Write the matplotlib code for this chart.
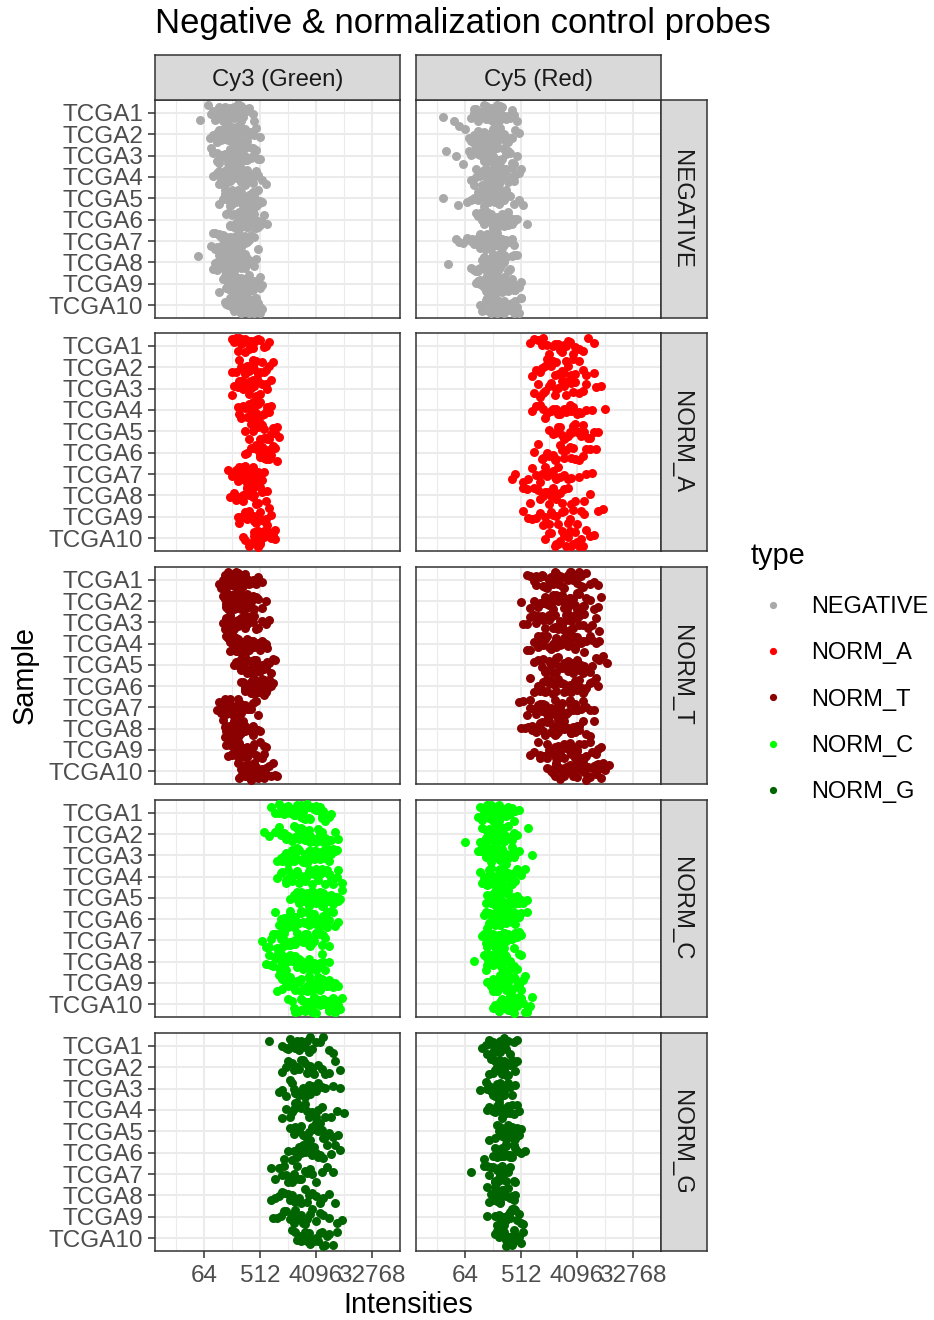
"""
Negative & normalization control probes, per sample and channel
"""
import matplotlib
matplotlib.use('Agg')
import matplotlib.pyplot as plt
from matplotlib.lines import Line2D
from matplotlib.ticker import NullFormatter
import numpy as np

plt.rcParams['font.family'] = ['Liberation Sans', 'DejaVu Sans']

samples = ['TCGA1', 'TCGA2', 'TCGA3', 'TCGA4', 'TCGA5',
           'TCGA6', 'TCGA7', 'TCGA8', 'TCGA9', 'TCGA10']
channels = ['Cy3 (Green)', 'Cy5 (Red)']
types = ['NEGATIVE', 'NORM_A', 'NORM_T', 'NORM_C', 'NORM_G']
type_colors = ['#A9A9A9', '#FF0000', '#8B0000', '#00FF00', '#006400']
x_ticks = [64, 512, 4096, 32768]

# probe intensities as log2 * 10, one string per sample (TCGA1..TCGA10)
neg_cy3 = [
    "58 62 64 65 66 67 68 69 69 70 70 71 71 72 72 73 73 73 74 74 75 75 76 76 77 77 78 78 79 80 81 82 83 84 86 87 "
    "66 68 70 71 72 73 74 75 76 77 78 79 80 82",
    "63 65 67 68 69 70 71 71 72 72 73 73 74 74 75 75 75 76 76 77 77 78 78 79 79 80 80 81 82 83 84 85 86 87 88 90 "
    "67 69 71 72 73 74 75 76 77 78 79 80 81 83",
    "64 65 67 68 69 70 71 72 72 73 73 74 74 75 75 76 76 77 77 77 78 78 79 79 80 80 81 82 83 84 85 86 87 88 89 90 "
    "67 69 71 72 73 74 75 76 77 78 79 80 82 84",
    "65 67 68 69 70 71 72 72 73 74 74 75 75 76 76 77 77 78 78 79 79 80 80 81 81 82 83 83 84 85 86 87 88 89 91 93 "
    "68 70 72 73 74 75 76 77 78 79 80 81 82 84",
    "68 70 71 72 73 74 74 75 76 76 77 77 78 78 79 79 80 80 81 81 82 82 83 83 84 84 85 85 86 87 87 88 89 89 90 91 "
    "71 73 74 75 77 78 79 80 81 82 83 84 85 86",
    "72 73 74 75 76 77 77 78 78 79 79 80 80 81 81 82 82 83 83 83 84 84 85 85 86 86 87 87 88 88 89 89 90 91 92 94 "
    "74 76 78 79 80 81 82 83 84 85 86 87 88 90",
    "64 65 66 67 68 69 70 70 71 71 72 72 73 73 74 74 75 75 76 76 77 77 78 78 79 79 80 80 81 81 82 83 84 85 87 89 "
    "66 68 69 71 72 73 74 75 76 77 78 79 80 82",
    "57 65 66 67 68 69 70 71 71 72 72 73 73 74 74 75 75 76 76 77 77 78 78 79 79 80 80 81 81 82 83 84 85 86 87 88 "
    "67 68 70 71 72 73 74 75 76 77 78 79 80 82",
    "68 70 71 72 73 73 74 75 75 76 76 77 77 78 78 79 79 80 80 81 81 82 82 83 83 84 84 85 85 86 87 88 89 90 90 91 "
    "71 72 74 75 76 77 78 79 80 81 82 83 84 86",
    "71 72 73 74 75 76 76 77 77 78 78 79 79 80 80 81 81 82 82 83 83 84 84 85 85 86 86 87 87 88 88 89 89 90 90 91 "
    "73 75 76 77 78 79 80 81 82 83 84 85 86 88",
]
neg_cy5 = [
    "48 54 63 65 66 67 68 69 70 70 71 71 72 72 73 73 74 74 75 75 76 76 77 77 78 78 79 79 80 81 82 83 84 85 86 88 "
    "65 67 69 70 71 72 73 74 75 76 77 78 80 82",
    "57 60 62 64 65 66 67 68 69 70 70 71 71 72 72 73 73 74 74 75 75 76 76 77 77 78 78 79 80 81 82 83 84 85 87 89 "
    "63 65 67 69 70 71 72 73 74 75 76 77 79 81",
    "50 55 59 62 64 65 66 67 68 69 70 70 71 71 72 72 73 73 74 74 75 75 76 76 77 77 78 79 80 81 82 83 84 85 86 88 "
    "63 65 67 68 70 71 72 73 74 75 76 77 79 81",
    "63 65 66 67 68 69 70 71 71 72 72 73 73 74 74 75 75 76 76 77 77 78 78 79 79 80 80 81 82 83 84 85 86 87 89 90 "
    "66 68 69 71 72 73 74 75 76 77 78 79 81 83",
    "48 56 61 63 65 66 67 68 69 70 70 71 72 72 73 73 74 74 75 75 76 76 77 77 78 78 79 79 80 81 82 83 84 86 89 91 "
    "65 67 69 70 72 73 74 75 76 77 78 79 80 82",
    "66 67 68 69 70 71 71 72 72 73 73 74 74 75 75 76 76 77 77 78 78 79 79 80 80 81 81 82 82 83 84 85 86 87 88 93 "
    "68 69 71 72 73 74 75 76 77 78 79 80 81 83",
    "55 57 59 61 63 65 66 67 68 69 69 70 70 71 71 72 72 73 73 74 74 75 75 76 76 77 77 78 78 79 80 81 82 84 85 86 "
    "64 66 68 69 70 71 72 73 74 75 76 77 79 80",
    "51 63 65 66 67 68 69 70 70 71 71 72 72 73 73 74 74 75 75 76 76 77 77 78 78 79 79 80 80 81 82 83 84 85 86 88 "
    "66 67 69 70 71 72 73 74 75 76 77 78 79 81",
    "66 67 68 69 70 71 72 72 73 73 74 74 75 75 76 76 77 77 78 78 79 79 80 80 81 81 82 82 83 84 85 86 87 88 89 90 "
    "68 70 71 72 74 75 76 77 78 79 80 81 82 84",
    "68 69 70 71 72 73 73 74 74 75 75 76 76 77 77 78 78 79 79 80 80 81 81 82 82 83 83 84 84 85 86 87 88 89 90 90 "
    "70 72 73 74 75 76 77 78 79 80 81 82 83 85",
]
norm_a_cy3 = [
    "75 76 77 78 79 80 80 81 82 82 83 84 84 85 86 87 88 89 90 92 93 95",
    "75 77 79 80 81 82 83 83 84 85 85 86 86 87 88 89 90 91 92 93 95 97",
    "75 76 78 79 80 81 81 82 83 84 84 85 85 86 87 88 89 90 91 93 94 96",
    "78 79 80 81 82 83 84 85 85 86 86 87 88 88 89 90 91 92 93 94 95 96",
    "82 84 85 86 87 88 88 89 89 90 90 91 92 92 93 94 95 96 97 98 99 100",
    "82 83 85 86 87 88 88 89 90 90 91 91 92 93 93 94 95 96 96 97 98 99",
    "73 75 77 78 79 79 80 81 81 82 82 83 84 84 85 86 87 88 89 90 91 92",
    "74 76 77 78 79 80 81 81 82 83 83 84 85 86 86 87 88 89 90 91 93 94",
    "78 79 80 81 82 83 84 84 85 86 86 87 88 88 89 90 91 92 93 94 95 96",
    "81 82 84 85 86 87 87 88 89 89 90 90 91 92 92 93 94 95 96 97 98 98",
]
norm_a_cy5 = [
    "95 97 99 101 102 104 105 107 108 110 111 112 113 114 115 116 118 119 121 123 126 129",
    "96 98 100 101 103 104 106 107 108 109 110 112 113 114 115 117 118 119 121 123 125 129",
    "97 99 100 102 103 105 106 108 109 110 112 113 114 115 117 118 119 121 123 125 130 133",
    "96 98 100 102 103 104 106 107 109 110 111 113 114 116 117 118 120 121 122 125 128 135",
    "105 107 108 110 111 112 113 114 115 116 117 118 119 120 121 122 123 124 126 127 129 131",
    "97 99 101 102 104 105 107 108 109 111 112 113 114 116 117 118 119 121 123 125 127 130",
    "85 87 91 94 96 98 100 101 103 104 105 107 108 109 110 111 113 115 117 121 125 128",
    "91 93 95 97 99 100 102 103 104 105 106 107 108 109 111 112 113 115 117 119 124 127",
    "91 94 96 98 100 102 103 105 106 107 109 110 112 113 115 116 118 120 122 124 131 134",
    "103 105 106 108 109 110 111 112 113 114 115 116 117 118 119 120 121 122 123 125 127 129",
]
norm_t_cy3 = [
    "68 69 70 71 72 72 73 73 74 74 75 75 76 76 77 77 78 78 79 79 80 80 81 81 82 83 84 85 86 88 89 91 "
    "71 73 75 76 77 78 80 82",
    "70 71 72 73 73 74 74 75 75 76 76 77 77 78 78 79 79 80 80 81 81 82 82 83 84 85 86 87 88 89 91 93 "
    "72 74 76 77 78 79 81 83",
    "70 71 72 73 74 74 75 75 76 76 77 77 78 78 79 79 80 80 81 81 82 82 83 84 85 86 87 88 89 91 93 95 "
    "72 74 76 78 79 80 82 84",
    "72 73 74 75 76 76 77 77 78 78 79 79 80 80 81 81 82 82 83 83 84 84 85 86 87 88 89 90 91 92 93 94 "
    "74 76 78 79 80 81 83 85",
    "76 77 78 79 80 80 81 81 82 82 83 83 84 84 85 85 86 86 87 87 88 88 89 90 91 92 93 94 95 96 97 98 "
    "78 80 82 83 84 86 88 90",
    "80 81 82 82 83 83 84 84 85 85 86 86 87 87 88 88 89 89 90 90 91 91 92 92 93 93 94 94 95 95 96 97 "
    "82 84 85 86 87 88 90 92",
    "67 68 69 70 71 71 72 72 73 73 74 74 75 75 76 76 77 77 78 78 79 79 80 80 81 82 83 84 85 86 88 89 "
    "69 71 73 74 75 77 78 80",
    "70 71 72 72 73 73 74 74 75 75 76 76 77 77 78 78 79 79 80 80 81 81 82 83 84 85 86 86 87 88 89 90 "
    "71 73 75 76 77 78 80 82",
    "72 73 74 75 75 76 76 77 77 78 78 79 79 80 80 81 81 82 82 83 83 84 85 86 87 88 89 90 91 92 92 93 "
    "74 76 78 79 80 81 83 85",
    "78 79 80 81 82 82 83 83 84 84 85 85 86 86 87 87 88 88 89 89 90 90 91 91 92 93 94 95 96 97 98 99 "
    "80 82 84 85 86 87 89 91",
]
norm_t_cy5 = [
    "93 95 97 98 100 101 102 103 104 105 106 107 108 109 110 111 112 113 114 115 116 117 118 119 120 121 122 123 125 127 129 131 "
    "98 102 106 109 112 115 118 122",
    "90 95 97 99 101 102 103 104 105 106 107 108 109 110 111 112 113 114 115 116 117 118 119 120 121 122 124 125 127 129 131 133 "
    "100 104 107 110 113 116 120 123",
    "91 93 95 97 99 100 102 103 104 105 106 107 108 109 110 111 112 113 114 115 116 117 118 119 120 121 123 124 126 128 130 132 "
    "98 101 105 108 111 114 118 121",
    "93 95 97 99 100 101 103 104 105 106 107 108 109 110 111 112 113 114 115 116 117 118 119 120 121 122 124 125 127 128 130 132 "
    "99 102 106 109 112 115 119 123",
    "97 99 101 102 104 105 106 107 108 109 110 111 112 113 114 115 116 117 118 119 120 121 122 123 124 125 127 128 130 132 134 136 "
    "103 106 109 112 115 118 122 126",
    "95 97 99 100 102 103 104 105 106 107 108 109 110 111 112 113 114 115 116 117 118 119 120 121 122 123 124 125 127 128 130 131 "
    "101 104 107 110 113 116 119 122",
    "89 91 93 95 97 98 100 101 102 103 104 105 106 107 108 109 110 111 112 113 114 115 116 117 118 119 120 122 123 125 127 129 "
    "95 99 103 106 109 112 116 120",
    "90 92 94 96 98 99 100 101 102 103 104 105 106 107 108 109 110 111 112 113 114 115 116 117 118 119 120 121 123 125 127 129 "
    "96 100 104 107 110 113 117 121",
    "95 97 99 100 102 103 104 105 106 107 108 109 110 111 112 113 114 115 116 117 118 119 120 121 122 124 125 127 128 130 131 133 "
    "100 104 107 110 113 116 120 124",
    "104 106 107 108 109 110 111 112 113 114 115 116 117 118 119 120 121 122 123 124 125 126 127 128 129 130 131 132 133 134 135 137 "
    "108 111 114 117 120 123 126 130",
]
norm_c_cy3 = [
    "96 98 100 101 102 103 104 105 106 107 108 109 110 110 111 112 112 113 114 115 116 117 118 119 120 121 122 123 124 125 127 128 "
    "100 104 107 110 113 116 120 123",
    "92 95 98 100 101 103 104 105 106 107 108 109 110 111 112 113 114 115 116 117 118 119 120 121 122 123 124 125 127 128 130 132 "
    "102 105 108 111 114 117 121 125",
    "99 101 102 103 105 106 107 108 109 110 111 112 113 114 115 115 116 117 118 119 120 121 122 123 124 125 126 127 128 129 130 131 "
    "104 107 110 113 116 119 122 126",
    "99 101 102 104 105 106 107 108 109 110 111 112 113 114 115 116 117 118 119 120 121 122 123 124 125 126 127 128 129 131 132 134 "
    "104 108 111 114 117 120 123 127",
    "106 108 109 110 111 112 113 114 115 116 116 117 118 119 120 120 121 122 123 124 124 125 126 127 128 129 129 130 131 132 133 134 "
    "110 113 116 119 121 124 127 130",
    "98 100 101 103 104 105 106 107 108 109 110 111 112 113 114 115 116 117 118 119 120 121 122 123 124 125 126 127 128 129 130 132 "
    "102 106 109 112 115 118 122 126",
    "91 93 95 97 98 100 101 102 103 104 105 106 107 108 109 110 111 112 113 114 115 116 117 118 119 120 121 122 123 124 125 127 "
    "96 99 103 106 109 112 116 120",
    "93 95 96 98 99 100 101 102 103 104 105 106 107 108 109 110 111 112 113 114 115 116 117 118 119 120 121 122 123 124 125 127 "
    "97 100 104 107 110 113 117 120",
    "99 100 102 103 104 105 106 107 108 109 110 111 112 113 114 115 116 117 118 119 120 121 122 123 124 125 126 127 128 129 130 132 "
    "102 106 109 112 115 118 122 126",
    "105 107 108 109 110 111 112 113 114 115 116 117 118 118 119 120 121 122 123 124 125 126 127 127 128 129 130 131 131 132 133 134 "
    "109 112 115 118 121 124 127 130",
]
norm_c_cy5 = [
    "67 68 69 70 71 71 72 72 73 73 74 74 75 75 76 76 77 77 78 78 79 79 80 80 81 82 83 84 85 86 87 89 "
    "70 72 74 76 77 78 80 82",
    "60 68 69 70 71 72 72 73 73 74 74 75 75 76 76 77 77 78 78 79 79 80 80 81 81 82 83 84 85 86 88 94 "
    "71 73 75 77 78 79 81 83",
    "67 68 69 70 71 72 72 73 73 74 74 75 75 76 76 77 77 78 78 79 79 80 80 81 82 83 84 85 86 87 89 96 "
    "70 72 74 76 77 78 80 82",
    "68 69 70 71 72 73 73 74 74 75 75 76 76 77 77 78 78 79 79 80 80 81 81 82 83 84 85 86 87 88 90 92 "
    "71 73 75 77 78 79 81 84",
    "71 72 73 74 75 75 76 76 77 77 78 78 79 79 80 80 81 81 82 82 83 83 84 84 85 86 87 88 89 90 91 93 "
    "74 76 78 79 80 82 84 86",
    "70 71 72 73 74 74 75 75 76 76 77 77 78 78 79 79 80 80 81 81 82 82 83 84 85 86 87 87 88 89 90 93 "
    "73 75 77 78 79 81 83 85",
    "69 70 71 72 72 73 73 74 74 75 75 76 76 77 77 78 78 79 79 80 80 81 81 82 83 84 85 86 87 88 89 90 "
    "71 73 75 76 77 79 81 83",
    "65 70 71 72 73 73 74 74 75 75 76 76 77 77 78 78 79 79 80 80 81 81 82 82 83 84 85 86 87 88 89 90 "
    "72 74 75 77 78 80 81 83",
    "72 73 74 74 75 75 76 76 77 77 78 78 79 79 80 80 81 81 82 82 83 83 84 84 85 86 87 88 89 90 91 92 "
    "75 76 78 79 80 82 84 86",
    "75 76 77 78 78 79 79 80 80 81 81 82 82 83 83 84 84 85 85 86 86 87 87 88 89 90 91 92 93 94 95 96 "
    "78 80 81 83 84 86 88 90",
]
norm_g_cy3 = [
    "95 102 104 105 106 107 108 109 110 111 112 113 114 115 116 117 118 120 122 124 127 129",
    "102 104 105 107 108 109 110 111 112 113 114 115 116 117 118 119 121 123 125 127 130 133",
    "100 102 104 106 107 108 109 110 111 112 113 114 115 116 117 118 120 121 123 125 129 133",
    "102 104 106 107 108 109 110 111 112 113 114 115 116 117 118 120 121 123 125 128 131 135",
    "106 108 109 110 111 112 113 114 115 116 117 118 119 120 121 122 123 124 125 127 129 132",
    "103 105 107 108 110 111 112 113 114 115 116 117 118 119 120 121 122 124 126 128 130 133",
    "96 98 100 102 103 104 105 106 107 108 109 110 111 112 114 115 117 118 120 123 126 129",
    "96 98 100 102 103 105 106 107 108 109 110 111 112 114 115 116 118 120 122 124 127 130",
    "97 99 101 103 104 106 107 108 109 110 112 113 114 115 117 118 120 122 124 127 131 134",
    "107 109 110 111 112 113 114 115 116 117 118 119 120 121 122 123 124 125 126 127 129 131",
]
norm_g_cy5 = [
    "69 71 72 73 74 75 75 76 77 77 78 78 79 79 80 81 81 82 83 84 86 88",
    "73 74 75 76 76 77 78 78 79 79 80 80 81 81 82 82 83 84 85 86 87 88",
    "68 71 72 73 74 75 76 76 77 77 78 78 79 79 80 81 81 82 83 84 85 87",
    "72 73 74 75 76 77 77 78 78 79 79 80 80 81 82 82 83 84 85 86 88 89",
    "73 76 77 78 79 79 80 80 81 81 82 82 83 83 84 85 85 86 87 88 89 90",
    "70 75 76 77 78 78 79 80 80 81 81 82 82 83 84 84 85 86 87 88 90 92",
    "63 70 72 73 74 75 76 76 77 77 78 78 79 79 80 81 81 82 83 84 86 87",
    "72 73 74 75 76 76 77 77 78 78 79 79 80 80 81 81 82 83 84 85 86 87",
    "72 76 77 78 79 80 80 81 81 82 82 83 83 84 84 85 86 87 88 89 90 91",
    "76 77 78 79 80 81 81 82 82 83 83 84 84 85 85 86 86 87 88 89 90 91",
]

panel_data = {
    'NEGATIVE': (neg_cy3, neg_cy5),
    'NORM_A': (norm_a_cy3, norm_a_cy5),
    'NORM_T': (norm_t_cy3, norm_t_cy5),
    'NORM_C': (norm_c_cy3, norm_c_cy5),
    'NORM_G': (norm_g_cy3, norm_g_cy5),
}

W, H = 934, 1320
col_x = [(155, 400), (416, 661)]
row_y = [(100, 318), (333, 551), (567, 784), (800, 1017), (1033, 1251)]
GRID = '#EBEBEB'
DARK = '#333333'


def px_axes(fig, x0, y0, x1, y1):
    return fig.add_axes([x0 / W, 1 - y1 / H, (x1 - x0) / W, (y1 - y0) / H])


def jitter(n, seed):
    # vertical jitter inside a sample row (like geom_jitter height=0.4)
    k = np.arange(n) + 1.0
    h = np.sin(k * 12.9898 + seed * 78.233) * 43758.5453
    return (h - np.floor(h) - 0.5) * 0.8


def draw_panel(ax, rows, color, ti, ci):
    for si, s in enumerate(rows):
        vals = 2 ** (np.array(s.split(), float) / 10)
        yy = si + 1 + jitter(len(vals), ti * 20 + ci * 10 + si)
        ax.scatter(vals, yy, s=42, color=color, linewidths=0, zorder=3)
    ax.set_xscale('log', base=2)
    ax.set_xlim(2 ** 3.375, 2 ** 16.5)
    ax.set_ylim(10.6, 0.4)
    ax.set_xticks(x_ticks)
    ax.set_xticks([2 ** 4.5, 2 ** 7.5, 2 ** 10.5, 2 ** 13.5], minor=True)
    ax.xaxis.set_minor_formatter(NullFormatter())
    ax.set_yticks(range(1, 11))
    ax.set_yticks([], minor=True)
    ax.set_axisbelow(True)
    ax.grid(which='major', color=GRID, lw=1.5)
    ax.grid(which='minor', axis='x', color=GRID, lw=0.8)
    for sp in ax.spines.values():
        sp.set_color(DARK)
        sp.set_linewidth(1.1)
    ax.tick_params(which='minor', length=0)
    ax.tick_params(which='major', direction='out', length=5.3, width=1.1,
                   color=DARK, labelcolor='#4D4D4D', labelsize=17.5, pad=3)
    ax.tick_params(axis='x', pad=4.8)
    if ci == 0:
        ax.set_yticklabels(samples)
    else:
        ax.tick_params(axis='y', left=False, labelleft=False)
    if ti == len(types) - 1:
        ax.set_xticklabels([str(t) for t in x_ticks])
    else:
        ax.tick_params(axis='x', bottom=False, labelbottom=False)


def strip(fig, box, label, rot, tx, ty):
    sa = px_axes(fig, *box)
    sa.set_facecolor('#D9D9D9')
    sa.set_xticks([])
    sa.set_yticks([])
    for sp in sa.spines.values():
        sp.set_color(DARK)
        sp.set_linewidth(1.1)
    sa.text(tx, ty, label, transform=sa.transAxes, ha='center', va='center',
            rotation=rot, fontsize=17.2, color='#1A1A1A')


def create_figure():
    fig = plt.figure(figsize=(W / 100, H / 100), dpi=100)
    for ti, t in enumerate(types):
        y0, y1 = row_y[ti]
        for ci in range(2):
            x0, x1 = col_x[ci]
            ax = px_axes(fig, x0, y0, x1, y1)
            draw_panel(ax, panel_data[t][ci], type_colors[ti], ti, ci)
        strip(fig, (661, y0, 707, y1), t, -90, 0.44, 0.5)
    for ci, ch in enumerate(channels):
        x0, x1 = col_x[ci]
        strip(fig, (x0, 55, x1, 100), ch, 0, 0.5, 0.45)

    fig.text(155 / W, 1 - 23 / H, 'Negative & normalization control probes',
             ha='left', va='center', fontsize=24.9)
    fig.text(25 / W, 1 - 675 / H, 'Sample', rotation=90, ha='center',
             va='center', fontsize=20.8)
    fig.text(408 / W, 1 - 1305 / H, 'Intensities', ha='center', va='center',
             fontsize=20.8)

    fig.text(751 / W, 1 - 556 / H, 'type', ha='left', va='center',
             fontsize=20.8)
    handles = [Line2D([], [], ls='', marker='o', markersize=5.2, color=c,
                      markeredgewidth=0) for c in type_colors]
    fig.legend(handles, types, loc='upper left',
               bbox_to_anchor=(751 / W, 1 - 596 / H), frameon=False,
               fontsize=17, handlelength=1.9, handletextpad=0.64,
               labelspacing=1.03, borderpad=0, borderaxespad=0)

    fig.savefig('out.png', dpi=100)
    plt.close(fig)


if __name__ == "__main__":
    create_figure()
